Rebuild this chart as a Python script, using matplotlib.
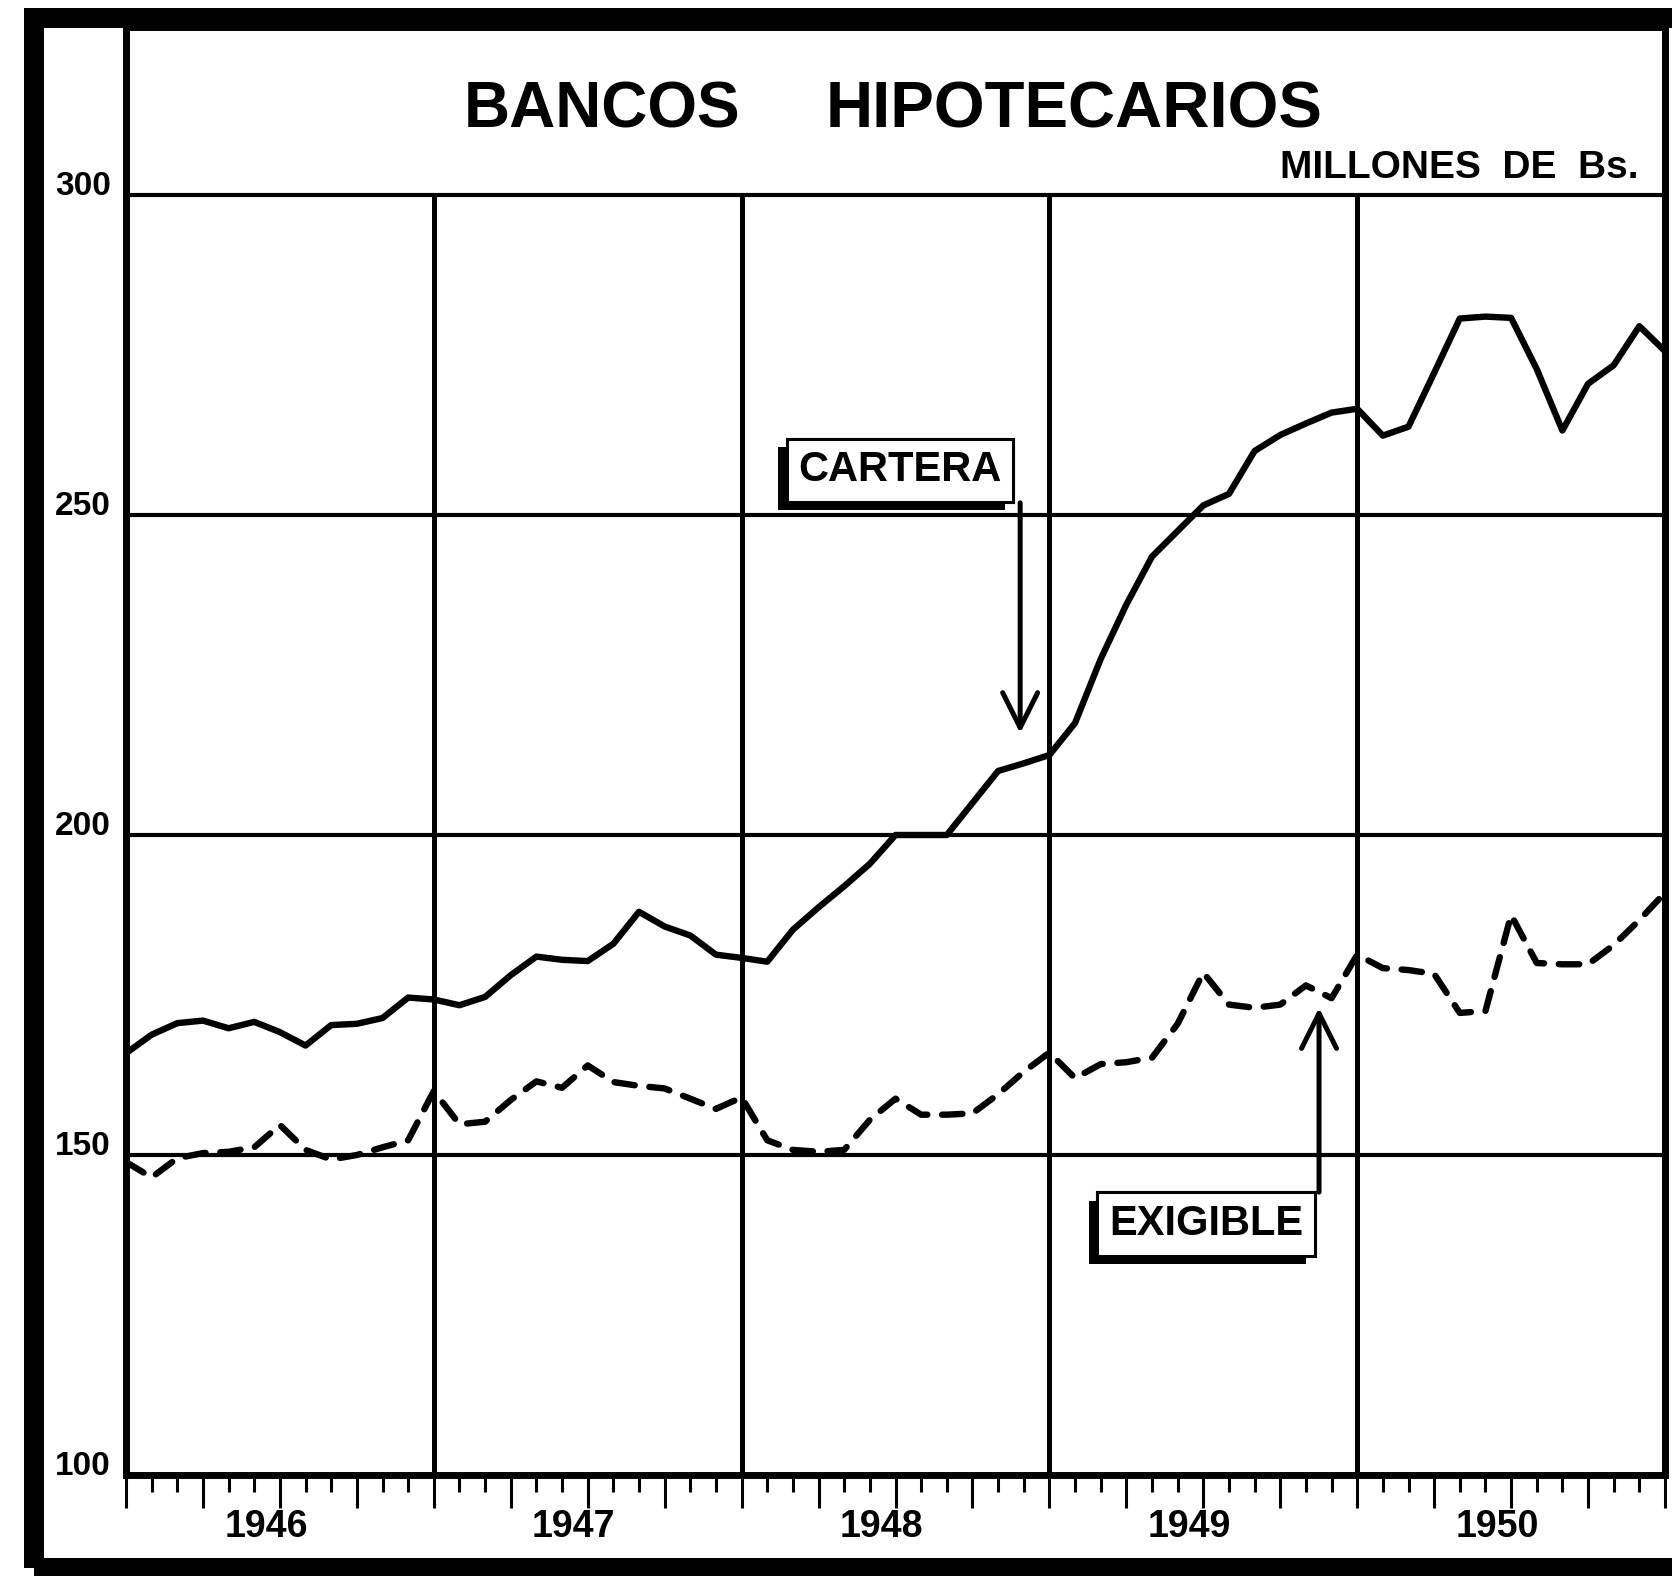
import numpy as np
import matplotlib.pyplot as plt
from matplotlib import patches, patheffects
from matplotlib.ticker import MultipleLocator, NullFormatter

plt.rcParams['font.family'] = ['Liberation Sans', 'DejaVu Sans']
plt.rcParams['font.weight'] = 'bold'

years = ['1946', '1947', '1948', '1949', '1950']
y_levels = [100, 150, 200, 250, 300]

# monthly values, Jan 1946 .. Jan 1951 (millones de Bs.)
cartera = [165.9, 168.8, 170.6, 171.0, 169.8, 170.8, 169.2, 167.1, 170.3, 170.5, 171.4, 174.6,
           174.3, 173.4, 174.7, 178.1, 181.0, 180.5, 180.3, 183.0, 188.0, 185.7, 184.3, 181.3,
           180.8, 180.2, 185.2, 188.7, 192.0, 195.5, 200.0, 200.0, 200.0, 205.0, 210.0, 211.2,
           212.5, 217.5, 227.5, 236.0, 243.5, 247.5, 251.5, 253.3, 260.0, 262.5, 264.3, 266.0,
           266.6, 262.4, 263.8, 272.2, 280.7, 281.0, 280.8, 272.8, 263.2, 270.5, 273.4, 279.5,
           275.6]
exigible = [148.9, 146.5, 149.5, 150.3, 150.5, 151.2, 154.7, 150.8, 149.3, 150.0, 151.2, 152.3,
            160.0, 154.8, 155.2, 158.6, 161.5, 160.5, 164.0, 161.4, 160.8, 160.4, 158.8, 157.2,
            159.0, 152.3, 150.8, 150.5, 150.8, 155.5, 158.8, 156.3, 156.3, 156.5, 159.5, 163.0,
            166.0, 162.0, 164.2, 164.5, 165.2, 170.5, 178.5, 173.5, 173.0, 173.5, 176.5, 174.5,
            181.3, 179.2, 178.9, 178.3, 172.2, 172.5, 187.5, 180.0, 179.8, 179.8, 182.8, 186.7,
            191.0]

months = 1946 + np.arange(len(cartera)) / 12

W, H = 1672, 1576
fig = plt.figure(figsize=(W / 100, H / 100), dpi=100)
ax = fig.add_axes([126 / W, 101 / H, 1539 / W, 1448 / H])
ax.set_xlim(1946, 1951)
ax.set_ylim(100, 326.25)

# grid
for v in y_levels[1:]:
    ax.axhline(v, color='k', lw=3)
ax.vlines([1947, 1948, 1949, 1950], 100, 300, color='k', lw=3.6)

ax.plot(months, cartera, color='k', lw=4.6, solid_joinstyle='round', solid_capstyle='round')
ax.plot(months, exigible, color='k', lw=4.6, dashes=(3.2, 2.3),
        dash_capstyle='round', dash_joinstyle='round')

for s in ax.spines.values():
    s.set_linewidth(5)

ax.set_yticks([])
ax.xaxis.set_major_locator(MultipleLocator(0.25))
ax.xaxis.set_minor_locator(MultipleLocator(1 / 12))
ax.xaxis.set_major_formatter(NullFormatter())
ax.tick_params(axis='x', which='major', length=24, width=2.2, direction='out')
ax.tick_params(axis='x', which='minor', length=12, width=2.2, direction='out')

for v in y_levels:
    ax.text(-15 / 1539, v, str(v), transform=ax.get_yaxis_transform(),
            ha='right', va='baseline', fontsize=24)

for i, y in enumerate(years):
    ax.text(1946 + i + 0.455, -0.043, y, transform=ax.get_xaxis_transform(),
            ha='center', va='baseline', fontsize=27)

ax.text(1947.098, 310.5, 'BANCOS', fontsize=46, ha='left', va='baseline')
ax.text(1948.274, 310.5, 'HIPOTECARIOS', fontsize=47, ha='left', va='baseline')
ax.text(1949.75, 302.7, 'MILLONES  DE  Bs.', fontsize=28, ha='left', va='baseline')

# boxed labels with arrows
shadow = [patheffects.withSimplePatchShadow(offset=(-6, -6), shadow_rgbFace='k', alpha=1),
          patheffects.Normal()]
arrow = dict(arrowstyle='->,head_length=0.9,head_width=0.45', lw=3.6, color='k',
             shrinkA=0, shrinkB=0, mutation_scale=28)

t1 = ax.text(1948.515, 257.0, 'CARTERA', fontsize=30, ha='center', va='center',
             bbox=dict(boxstyle='square,pad=0.28', fc='white', ec='k', lw=2.2))
t1.get_bbox_patch().set_path_effects(shadow)
ax.annotate('', xy=(1948.905, 215.9), xytext=(1948.905, 251.9), arrowprops=arrow)

t2 = ax.text(1949.509, 139.2, 'EXIGIBLE', fontsize=30, ha='center', va='center',
             bbox=dict(boxstyle='square,pad=0.28', fc='white', ec='k', lw=2.2))
t2.get_bbox_patch().set_path_effects(shadow)
ax.annotate('', xy=(1949.876, 173.0), xytext=(1949.876, 144.2), arrowprops=arrow)

# outer frame
fig.add_artist(patches.Rectangle((34 / W, 8 / H), (1720 - 34) / W, (1558 - 8) / H,
                                 transform=fig.transFigure, fill=False, lw=14.4,
                                 ec='k', clip_on=False))

fig.savefig('out.png', dpi=100)
